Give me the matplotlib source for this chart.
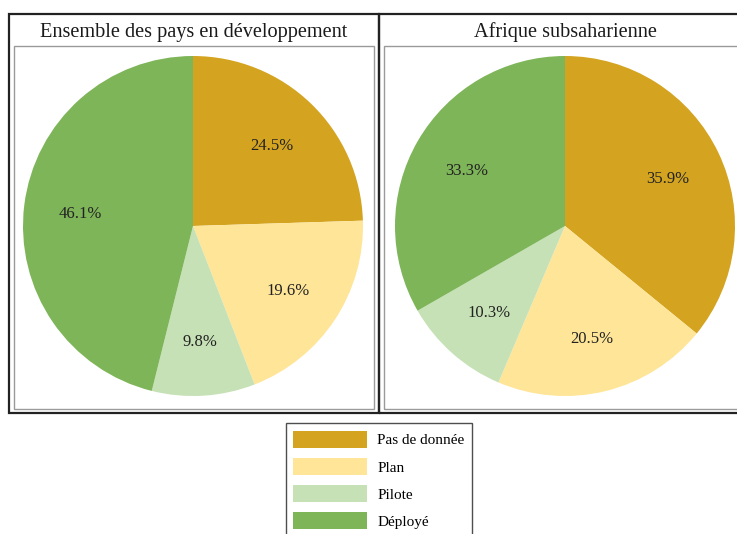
import matplotlib
matplotlib.use("Agg")
import matplotlib.pyplot as plt
from matplotlib.patches import Rectangle

plt.rcParams['font.family'] = ['Liberation Serif', 'DejaVu Serif']

categories = ["Pas de donnée", "Plan", "Pilote", "Déployé"]
titles = ["Ensemble des pays en développement", "Afrique subsaharienne"]
values_all = [24.5, 19.6, 9.8, 46.1]
values_ssa = [35.9, 20.5, 10.3, 33.3]
colors = ["#D4A421", "#FFE597", "#C6E1B5", "#7EB559"]

W, H = 737, 534
fig = plt.figure(figsize=(W / 100, H / 100), dpi=100)

def fx(x):
    return x / W

def fy(y):
    return 1 - y / H

# panel frames (pixel coords, top-based)
panels = [
    dict(outer=(9, 14, 379, 413), inner=(14, 46, 374, 409), center=(193, 226), title_x=194),
    dict(outer=(379, 14, 760, 413), inner=(384, 46, 760, 409), center=(565, 226), title_x=565),
]
R = 170

for p in panels:
    x0, y0, x1, y1 = p["outer"]
    fig.add_artist(Rectangle((fx(x0), fy(y1)), fx(x1) - fx(x0), fy(y0) - fy(y1),
                             transform=fig.transFigure, fill=False, ec="#222222", lw=1.6))
    x0, y0, x1, y1 = p["inner"]
    fig.add_artist(Rectangle((fx(x0), fy(y1)), fx(x1) - fx(x0), fy(y0) - fy(y1),
                             transform=fig.transFigure, fill=False, ec="#9a9a9a", lw=1.0))

wedges_first = None
for p, vals, title in zip(panels, [values_all, values_ssa], titles):
    cx, cy = p["center"]
    ax = fig.add_axes([fx(cx - R), fy(cy + R), 2 * R / W, 2 * R / H])
    wedges, texts, autotexts = ax.pie(
        vals, colors=colors, startangle=90, counterclock=False,
        autopct=lambda v: f"{v:.1f}%", pctdistance=0.67,
        wedgeprops=dict(linewidth=0),
        textprops=dict(fontsize=12, color="#222222"))
    for t in autotexts:
        t.set_va("center_baseline")
    ax.set_xlim(-1, 1)
    ax.set_ylim(-1, 1)
    ax.set_aspect("equal")
    ax.axis("off")
    fig.text(fx(p["title_x"]), fy(32), title, ha="center", va="center",
             fontsize=14.6, color="#1a1a1a")
    if wedges_first is None:
        wedges_first = wedges

leg = fig.legend(wedges_first, categories, loc="upper center",
                 bbox_to_anchor=(fx(379), fy(423)), frameon=True, fancybox=False,
                 fontsize=11, handlelength=4.8, handleheight=1.35, labelspacing=0.66,
                 borderpad=0.5, handletextpad=0.7, borderaxespad=0)
leg.get_frame().set_edgecolor("#222222")
leg.get_frame().set_linewidth(1.0)

fig.savefig("out.png", dpi=100)
